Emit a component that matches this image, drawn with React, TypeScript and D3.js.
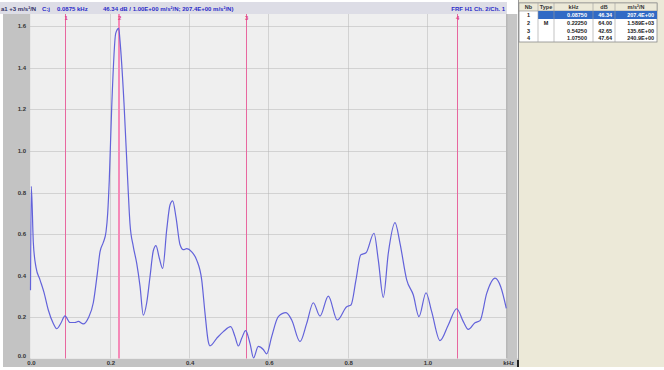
import React from "react";
import * as d3 from "d3";

const freqKHz = [0, 0.002, 0.0071, 0.0139, 0.024, 0.034, 0.0449, 0.0575, 0.066, 0.0762, 0.087, 0.0996, 0.1122, 0.1206, 0.1332, 0.1458, 0.1584, 0.1685, 0.1753, 0.1836, 0.1904, 0.1947, 0.1987, 0.2048, 0.2149, 0.2225, 0.2257, 0.2358, 0.2451, 0.2509, 0.2593, 0.2678, 0.2762, 0.2845, 0.2931, 0.3014, 0.3097, 0.3165, 0.3248, 0.3334, 0.3435, 0.3518, 0.3586, 0.367, 0.377, 0.3854, 0.3939, 0.4066, 0.4192, 0.4318, 0.4401, 0.4484, 0.4527, 0.4696, 0.4863, 0.5049, 0.5158, 0.5241, 0.5327, 0.5425, 0.5536, 0.5624, 0.5745, 0.5871, 0.5957, 0.6083, 0.625, 0.6444, 0.6588, 0.6797, 0.6966, 0.7132, 0.7301, 0.7511, 0.7738, 0.7975, 0.8083, 0.8209, 0.8328, 0.8462, 0.8663, 0.8772, 0.8898, 0.9024, 0.9193, 0.9319, 0.9488, 0.9655, 0.9798, 0.9975, 1.0118, 1.0328, 1.0537, 1.075, 1.0916, 1.1041, 1.121, 1.1337, 1.1506, 1.1715, 1.1859, 1.2];
const amplitude = [0.33, 0.83, 0.56, 0.44, 0.38, 0.32, 0.235, 0.17, 0.145, 0.17, 0.207, 0.175, 0.175, 0.18, 0.168, 0.197, 0.27, 0.41, 0.515, 0.56, 0.61, 0.7, 0.86, 1.21, 1.565, 1.589, 1.53, 1.23, 0.86, 0.65, 0.54, 0.46, 0.35, 0.21, 0.27, 0.395, 0.52, 0.545, 0.485, 0.435, 0.62, 0.74, 0.76, 0.68, 0.55, 0.525, 0.53, 0.515, 0.475, 0.38, 0.22, 0.083, 0.063, 0.099, 0.131, 0.155, 0.107, 0.062, 0.099, 0.136, 0.075, 0.005, 0.06, 0.045, 0.024, 0.107, 0.203, 0.222, 0.187, 0.083, 0.171, 0.27, 0.206, 0.302, 0.187, 0.251, 0.259, 0.38, 0.5, 0.51, 0.604, 0.475, 0.296, 0.508, 0.655, 0.556, 0.38, 0.307, 0.203, 0.318, 0.227, 0.088, 0.163, 0.241, 0.179, 0.142, 0.174, 0.184, 0.315, 0.388, 0.347, 0.243];

const xTicks = [0, 0.2, 0.4, 0.6, 0.8, 1.0];
const yTicks = [0, 0.2, 0.4, 0.6, 0.8, 1.0, 1.2, 1.4, 1.6];

const markerNb = ["1", "2", "3", "4"];
const markerType = ["", "M", "", ""];
const markerKHz = [0.0875, 0.2225, 0.5425, 1.075];
const markerKHzText = ["0.08750", "0.22250", "0.54250", "1.07500"];
const markerDB = ["46.34", "64.00", "42.65", "47.64"];
const markerAmp = ["207.4E+00", "1.589E+03", "135.6E+00", "240.9E+00"];
const tableHeaders = ["Nb", "Type", "kHz", "dB", "m/s²/N"];

const titleLeft = "a1 +3 m/s²/N";
const titleCursor = "C:j";
const titleFreq = "0.0875 kHz";
const titleValue = "46.34 dB / 1.00E+00 m/s²/N;  207.4E+00 m/s²/N)";
const titleRight = "FRF H1 Ch. 2/Ch. 1";

const FONT = "'Liberation Sans', Arial, sans-serif";

export default function App() {
  const W = 664, H = 370;
  const x = d3.scaleLinear().domain([0, 1.2]).range([30.5, 506.3]);
  const y = d3.scaleLinear().domain([0, 1.6]).range([358.9, 26.1]);
  const plotTop = 14, plotBottom = 358.5;
  const px = (v: number) => Math.round(v) + 0.5;

  const line = d3
    .line<number>()
    .x((_, i) => x(freqKHz[i]))
    .y((d) => y(d))
    .curve(d3.curveMonotoneX);

  const colX = [519, 538, 554, 593, 615, 657];
  const rowY = [3, 11, 19, 26.5, 34, 42];

  return (
    <div style={{ position: "fixed", left: 0, top: 0, width: W, height: H, background: "#fff" }}>
      <svg width={W} height={H} style={{ display: "block", fontFamily: FONT }}>
        {/* title bar */}
        <rect x={0} y={2} width={507} height={12} fill="#dddde6" />
        {/* left axis panel */}
        <rect x={3} y={14} width={27.5} height={353} fill="#c3c3c3" />
        {/* bottom axis strip */}
        <rect x={3} y={358.5} width={515} height={8.5} fill="#c3c3c3" />
        {/* plot background */}
        <rect x={30.5} y={plotTop} width={475.8} height={plotBottom - plotTop} fill="#efefef" />
        {/* right scroll strip */}
        <rect x={506.3} y={14} width={11} height={353} fill="#c6c6c6" />
        <line x1={506.8} x2={506.8} y1={14} y2={358} stroke="#aaaaaa" strokeWidth={1} />
        {/* right panel */}
        <rect x={518} y={0} width={146} height={367} fill="#ece9d8" />
        <line x1={518.5} x2={518.5} y1={0} y2={367} stroke="#9a9a9a" strokeWidth={1} />
        <rect x={517} y={360} width={2} height={7} fill="#222" />

        {/* grid */}
        {xTicks.slice(1).map((t) => (
          <line key={"gx" + t} x1={px(x(t))} x2={px(x(t))} y1={plotTop} y2={plotBottom} stroke="#d2d2d2" strokeWidth={1} />
        ))}
        {yTicks.slice(1).map((t) => (
          <line key={"gy" + t} x1={30.5} x2={506.3} y1={px(y(t))} y2={px(y(t))} stroke="#b4b4b4" strokeWidth={1} strokeDasharray="1,1" />
        ))}

        {/* markers */}
        {markerKHz.map((f, i) => (
          <g key={"m" + i}>
            <rect
              x={i === 1 ? Math.round(x(f)) - 1 : Math.round(x(f))}
              y={plotTop}
              width={i === 1 ? 2 : 1}
              height={plotBottom - plotTop}
              fill={i === 1 ? "#f58ab8" : "#e8679f"}
            />
            <text x={x(f) + 1} y={20} fontSize={6} fill="#e0407f" textAnchor="middle" fontWeight="bold">
              {markerNb[i]}
            </text>
          </g>
        ))}

        {/* curve */}
        <path d={line(amplitude) || ""} fill="none" stroke="#6262da" strokeWidth={1.2} />

        {/* y labels */}
        {yTicks.map((t) => (
          <text key={"yl" + t} x={26} y={y(t) + (t === 0 ? -1 : 2)} fontSize={6} fontWeight="bold" fill="#333" textAnchor="end">
            {t.toFixed(1)}
          </text>
        ))}
        {/* x labels */}
        {xTicks.map((t) => (
          <text key={"xl" + t} x={x(t) + 1} y={365} fontSize={6} fontWeight="bold" fill="#333" textAnchor="middle">
            {t.toFixed(1)}
          </text>
        ))}
        <text x={514} y={365} fontSize={6} fontWeight="bold" fill="#333" textAnchor="end">kHz</text>

        {/* title texts */}
        <text x={1} y={10.5} fontSize={6} fontWeight="bold" fill="#333366">{titleLeft}</text>
        <text x={42} y={10.5} fontSize={6} fontWeight="bold" fill="#2b2bc8">{titleCursor}</text>
        <text x={57} y={10.5} fontSize={6} fontWeight="bold" fill="#2b2bc8">{titleFreq}</text>
        <text x={103} y={10.5} fontSize={6} fontWeight="bold" fill="#2b2bc8">{titleValue}</text>
        <text x={505} y={10.5} fontSize={6} fontWeight="bold" fill="#2b2bc8" textAnchor="end">{titleRight}</text>

        {/* table */}
        <rect x={colX[0]} y={rowY[0]} width={colX[5] - colX[0]} height={rowY[5] - rowY[0]} fill="#ffffff" stroke="#8a8a8a" strokeWidth={0.8} />
        <rect x={colX[0]} y={rowY[0]} width={colX[5] - colX[0]} height={rowY[1] - rowY[0]} fill="#ece9d8" stroke="#8a8a8a" strokeWidth={0.6} />
        <rect x={colX[1]} y={rowY[1]} width={colX[5] - colX[1]} height={rowY[2] - rowY[1]} fill="#316ac5" />
        {colX.slice(1, 5).map((cx) => (
          <line key={"cl" + cx} x1={cx} x2={cx} y1={rowY[0]} y2={rowY[5]} stroke="#9a9a9a" strokeWidth={0.6} />
        ))}
        {tableHeaders.map((h, i) => (
          <text key={"th" + i} x={(colX[i] + colX[i + 1]) / 2} y={rowY[1] - 2} fontSize={5.5} fontWeight="bold" fill="#333" textAnchor="middle">
            {h}
          </text>
        ))}
        {markerNb.map((nb, r) => {
          const ty = rowY[r + 1] + 6;
          const sel = r === 0;
          const col = sel ? "#ffffff" : "#222";
          return (
            <g key={"row" + r} fontSize={5.5} fontWeight="bold" fill={col}>
              <text x={(colX[0] + colX[1]) / 2} y={ty} textAnchor="middle" fill="#222">{nb}</text>
              <text x={(colX[1] + colX[2]) / 2} y={ty} textAnchor="middle">{markerType[r]}</text>
              <text x={colX[3] - 6} y={ty} textAnchor="end">{markerKHzText[r]}</text>
              <text x={colX[4] - 3} y={ty} textAnchor="end">{markerDB[r]}</text>
              <text x={colX[5] - 3} y={ty} textAnchor="end">{markerAmp[r]}</text>
            </g>
          );
        })}
      </svg>
    </div>
  );
}
